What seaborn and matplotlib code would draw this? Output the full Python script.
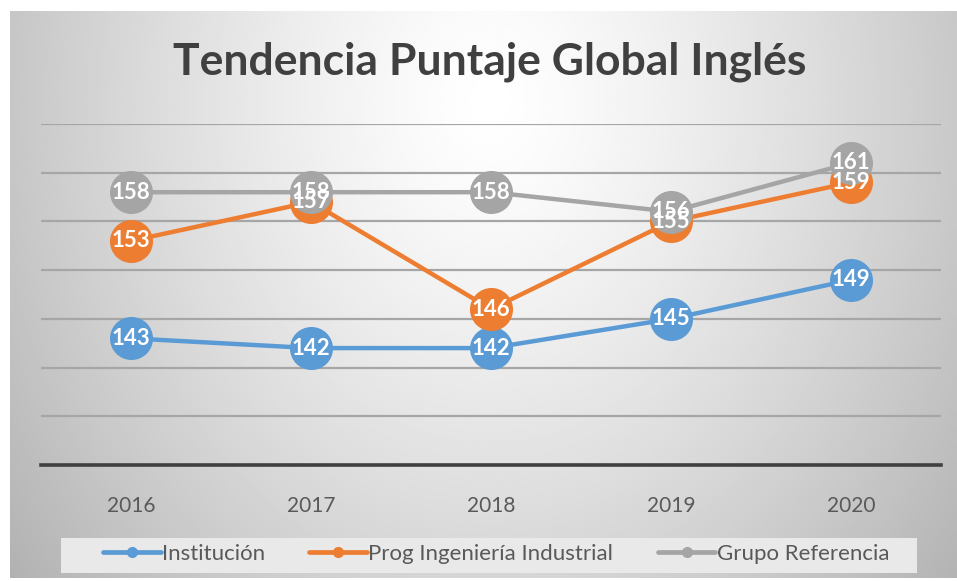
import numpy as np
import pandas as pd
import seaborn as sns
from matplotlib import pyplot as plt
from matplotlib.lines import Line2D
from matplotlib.patches import Rectangle

# data
years = ["2016", "2017", "2018", "2019", "2020"]
institucion = [143, 142, 142, 145, 149]
programa = [153, 157, 146, 155, 159]
referencia = [158, 158, 158, 156, 161]
series_names = ["Institución", "Prog Ingeniería Industrial", "Grupo Referencia"]
colors = ["#5B9BD5", "#ED7D31", "#A5A5A5"]

df = pd.DataFrame({
    "year": years * 3,
    "score": institucion + programa + referencia,
    "serie": [series_names[0]] * 5 + [series_names[1]] * 5 + [series_names[2]] * 5,
})

sns.set_style("white")
plt.rcParams["font.family"] = ["Lato", "DejaVu Sans"]

W, H = 957, 581
fig = plt.figure(figsize=(W / 100, H / 100), dpi=100)

# gradient background of the chart box
bg = fig.add_axes([10 / W, 1 - 578 / H, 947 / W, 567 / H])
gx, gy = np.meshgrid(np.linspace(0, 947, 400), np.linspace(0, 567, 240))
d = np.sqrt(((gx - 480) / 480) ** 2 + ((gy - 90) / 600) ** 2)
val = 1 - 0.22 * np.clip(d, 0, 1.35) ** 1.3
bg.imshow(val, cmap="gray", vmin=0, vmax=1, aspect="auto", extent=[0, 1, 0, 1], origin="upper")
bg.set_axis_off()

ax = fig.add_axes([41 / W, 1 - 465 / H, 900 / W, 341 / H])
ax.patch.set_alpha(0)

sns.lineplot(data=df, x="year", y="score", hue="serie", palette=colors,
             hue_order=series_names, marker="o", markersize=31, linewidth=3.2,
             markeredgewidth=0, ax=ax, legend=False, sort=False)

# data labels, white on the markers (they overlap in the original too)
for vals in [institucion, programa, referencia]:
    for i, v in enumerate(vals):
        ax.text(i, v, str(v), ha="center", va="center", color="white",
                fontsize=16, fontweight="bold", zorder=10)

ax.set_xlim(-0.5, 4.5)
ax.set_ylim(130, 165)
ax.set_yticks(np.arange(130, 166, 5))
ax.set_yticklabels([])
ax.yaxis.grid(True, color="#a6a6a6", linewidth=1.6)
ax.set_axisbelow(True)
for s in ["left", "right", "top"]:
    ax.spines[s].set_visible(False)
ax.spines["bottom"].set_color("#404040")
ax.spines["bottom"].set_linewidth(2.6)
ax.tick_params(axis="x", length=0, pad=22, labelsize=15, labelcolor="#595959")
ax.tick_params(axis="y", length=0)
ax.set_xlabel("")
ax.set_ylabel("")

fig.text(490 / W, 1 - 62 / H, "Tendencia Puntaje Global Inglés", ha="center", va="center",
         fontsize=32, fontweight="bold", color="#404040")

# legend box drawn separately so it can be wider than the entries
fig.patches.append(Rectangle((61 / W, 1 - 573 / H), 856 / W, 35 / H, transform=fig.transFigure,
                             facecolor="#e9e9e9", edgecolor="none", zorder=1))
handles = [Line2D([], [], color=c, linewidth=3.4, marker="o", markersize=7) for c in colors]
leg = fig.legend(handles, series_names, loc="center", bbox_to_anchor=(496 / W, 1 - 554 / H),
                 ncol=3, frameon=False, fontsize=16, handlelength=2.6, handletextpad=0.05,
                 columnspacing=2.0, borderpad=0.2, labelcolor="#595959")

fig.savefig("out.png", dpi=100)
